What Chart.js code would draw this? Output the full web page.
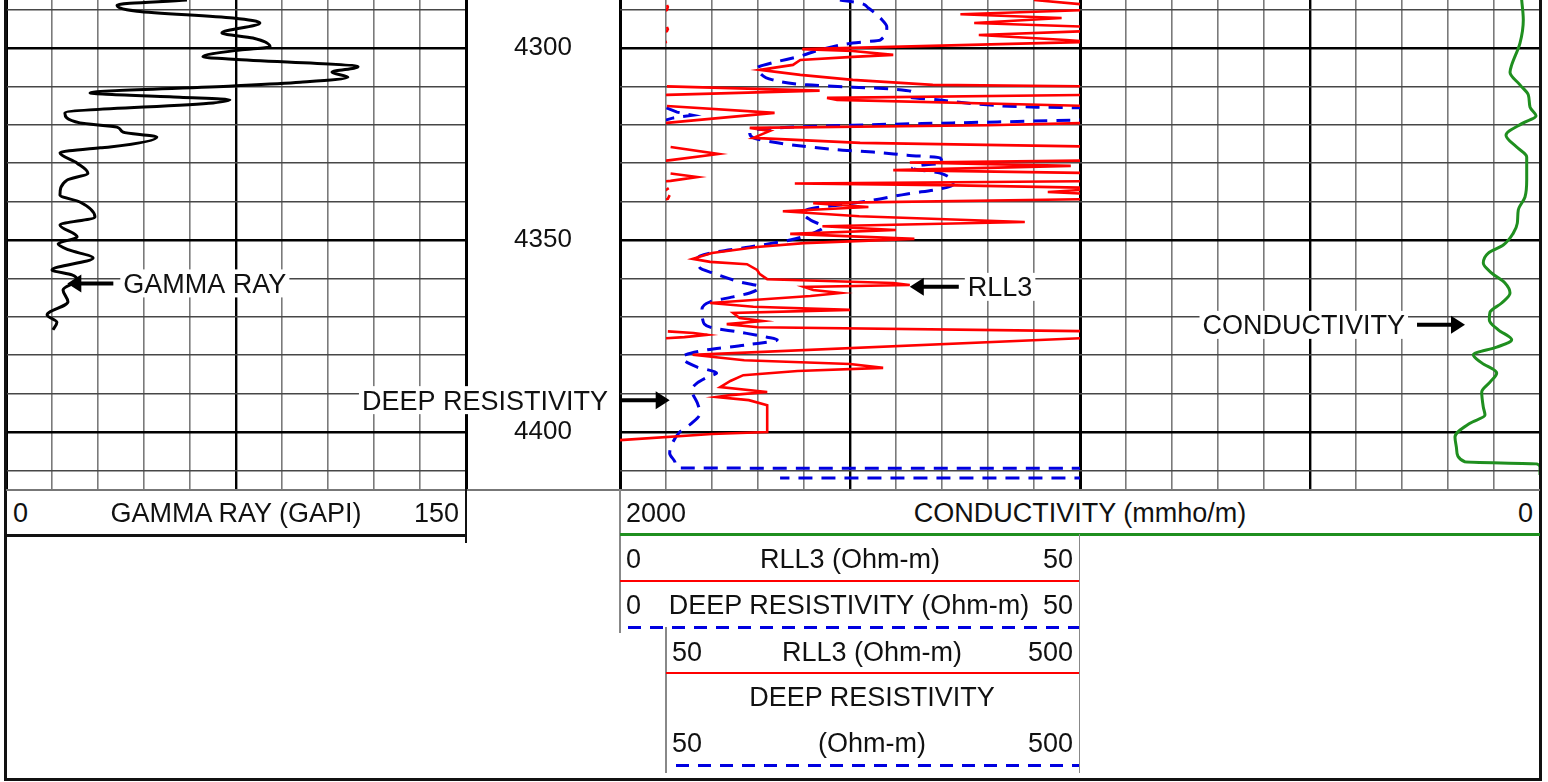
<!DOCTYPE html>
<html>
<head>
<meta charset="utf-8">
<title>Well log</title>
<script src="https://cdn.jsdelivr.net/npm/chart.js"></script>
<style>
  html, body { margin:0; padding:0; background:#fff; }
  body { width:1548px; height:782px; position:relative; overflow:hidden;
         font-family:"Liberation Sans", Arial, Helvetica, sans-serif; }
  canvas { position:absolute; top:0; }
  .t { position:absolute; font-size:27px; line-height:30px; height:30px; white-space:nowrap; color:#111; }
  .ln { position:absolute; }
</style>
</head>
<body>
<canvas id="cA" width="620" height="490" style="left:0"></canvas>
<canvas id="cB" width="938" height="490" style="left:610px"></canvas>
<div id="hdr"></div>
<script>
// ---------------- depth axis ----------------
const depthRange  = [4287.5, 4415.1];
const depthTicks  = [4290, 4300, 4310, 4320, 4330, 4340, 4350, 4360, 4370, 4380, 4390, 4400, 4410];
const depthLabels = [4300, 4350, 4400];

// ---------------- scale ranges / header tick labels ----------------
const gammaScale     = [0, 150];
const gammaGrid      = [0, 15, 30, 45, 60, 75, 90, 105, 120, 135, 150];
const condScale      = [2000, 0];
const condGrid       = [0,100,200,300,400,500,600,700,800,900,1000,1100,1200,1300,1400,1500,1600,1700,1800,1900,2000];
const resScale       = [0, 50];
const resBackupScale = [50, 500];

// ---------------- GAMMA RAY (GAPI) ----------------
const gDepth = [4287.5, 4288.8, 4290.4, 4292.2, 4293.5, 4296.1, 4297.4, 4299.7, 4300.5, 4302.3, 4302.9, 4304.9, 4306.3, 4307.6, 4308.9, 4309.9, 4311.7, 4312.8, 4313.5, 4314.3, 4316.9, 4319.5, 4320.6, 4321.9, 4323.2, 4325.8, 4326.0, 4327.3, 4330.0, 4332.6, 4334.4, 4338.3, 4340.1, 4344.0, 4346.1, 4349.2, 4351.0, 4352.6, 4354.7, 4357.8, 4359.1, 4360.4, 4363.0, 4366.1, 4369.5, 4371.4, 4373.4];
const gVal   = [59.0, 36.2, 42.7, 74.0, 82.8, 70.4, 80.5, 86.1, 76.3, 64.2, 74.0, 114.8, 106.3, 111.5, 95.9, 74.0, 27.4, 56.7, 73.0, 67.5, 19.2, 24.1, 36.2, 38.2, 49.2, 33.9, 30.7, 17.6, 23.2, 26.7, 19.9, 17.6, 24.1, 29.0, 17.6, 23.2, 17.0, 20.5, 28.4, 15.0, 21.5, 23.2, 18.6, 20.2, 13.4, 16.6, 15.3];

// ---------------- RLL3 (Ohm-m) ----------------
const rDepth = [4287.5, 4288.8, 4289.3, 4290.1, 4291.2, 4292.2, 4293.5, 4294.5, 4295.1, 4295.6, 4296.6, 4297.9, 4298.4, 4300.3, 4300.8, 4301.8, 4302.3, 4303.1, 4304.4, 4305.7, 4307.0, 4308.3, 4309.6, 4310.0, 4311.1, 4312.2, 4313.0, 4313.5, 4315.1, 4316.9, 4319.5, 4320.1, 4320.8, 4321.6, 4322.7, 4323.4, 4324.7, 4325.8, 4327.6, 4329.2, 4329.8, 4330.7, 4331.8, 4332.7, 4333.6, 4334.6, 4335.3, 4335.7, 4336.5, 4337.5, 4338.3, 4339.3, 4340.4, 4341.4, 4342.5, 4343.8, 4345.3, 4346.4, 4347.4, 4348.4, 4349.7, 4350.8, 4351.8, 4353.4, 4354.9, 4355.7, 4356.3, 4357.8, 4358.9, 4360.2, 4361.2, 4361.7, 4362.2, 4363.0, 4363.8, 4364.6, 4366.4, 4367.4, 4368.2, 4369.0, 4370.3, 4371.1, 4371.9, 4372.7, 4373.8, 4374.2, 4374.7, 4375.3, 4375.6, 4379.9, 4381.3, 4382.3, 4383.3, 4384.1, 4385.2, 4386.7, 4388.3, 4389.6, 4390.4, 4390.9, 4391.7, 4393.0, 4400.0, 4400.5, 4402.1];
const rVal   = [45, 51, 52, 51, 37, 48, 38.5, 51, 52, 51, 39, 48.5, 51, 19.8, 25.3, 29.7, 25.3, 19.6, 18.8, 15.2, 19.6, 25.3, 34, 51, 217, 51, 22.5, 23.6, 51, 168, 51, 40, 14.1, 16.3, 15.2, 14.5, 26.1, 55, 107, 55, 31.5, 49, 29.7, 55, 84, 55, 19, 35, 53, 46.5, 54, 52, 21, 27, 17.7, 26, 44, 22, 30, 18.5, 32, 20, 14.9, 10, 7.9, 9.8, 13.8, 14.9, 15.2, 16, 29.7, 31.5, 20, 21, 24, 20.7, 9.8, 14.5, 25, 12.3, 13, 15.5, 11.6, 15, 52, 80, 95, 70, 50, 7.9, 13.5, 25, 28.6, 19.3, 13.4, 12, 10.9, 16, 12, 10.5, 14, 16, 16, 10, 0];

// ---------------- DEEP RESISTIVITY (Ohm-m) ----------------
const dDepth = [4287.5, 4288.3, 4289.6, 4292.7, 4294.5, 4297.9, 4298.7, 4300.5, 4302.1, 4303.9, 4305.2, 4306.5, 4308.3, 4309.6, 4310.2, 4310.7, 4311.5, 4312.8, 4313.5, 4314.8, 4315.4, 4315.6, 4316.7, 4317.5, 4318.2, 4318.8, 4319.5, 4320.1, 4320.6, 4321.4, 4322.1, 4323.4, 4324.7, 4325.8, 4326.6, 4327.1, 4327.9, 4328.6, 4330.0, 4330.5, 4331.3, 4332.6, 4335.7, 4336.7, 4338.0, 4339.6, 4340.9, 4341.7, 4343.0, 4344.8, 4346.6, 4348.2, 4350.0, 4351.8, 4353.4, 4354.7, 4357.3, 4358.6, 4360.9, 4362.2, 4363.8, 4364.8, 4366.1, 4368.2, 4370.8, 4372.7, 4374.0, 4375.3, 4376.0, 4377.3, 4378.6, 4379.9, 4380.7, 4383.1, 4384.6, 4385.7, 4387.2, 4389.1, 4392.4, 4395.1, 4397.7, 4400.0, 4402.9, 4405.5, 4408.1, 4409.4, 4409.5, 4411.7, 4412.0];
const dVal   = [23.9, 26.1, 27.0, 28.5, 29.0, 28.3, 25.3, 21.7, 19.6, 16.5, 14.9, 15.2, 16.6, 20.3, 25.3, 29.7, 31.8, 31.5, 34.5, 39.9, 45.3, 50.5, 62, 79, 58, 49.2, 36.2, 25.3, 18.8, 14.5, 14.1, 14.5, 17.1, 20.7, 24.2, 27.5, 31.2, 34.8, 35.0, 32.9, 31.8, 34.8, 36.2, 34.8, 31.2, 27.5, 23.9, 21.0, 19.9, 20.7, 22.1, 21.0, 18.5, 14.1, 9.8, 8.4, 8.7, 10.1, 13.0, 15.2, 14.1, 12.3, 9.8, 8.9, 9.0, 9.8, 13.0, 16.0, 17.1, 13.8, 9.5, 7.1, 6.8, 8.4, 10.5, 9.5, 8.4, 7.8, 8.4, 8.7, 7.8, 6.5, 5.7, 5.4, 6.0, 6.5, 2000, 2000, 174];

// ---------------- CONDUCTIVITY (mmho/m) ----------------
const cDepth = [4287.5, 4292.7, 4298.7, 4304.4, 4306.3, 4309.6, 4312.2, 4315.4, 4317.7, 4319.5, 4322.7, 4325.8, 4328.4, 4334.4, 4338.8, 4342.2, 4345.6, 4348.2, 4351.3, 4353.4, 4356.0, 4358.6, 4361.2, 4363.8, 4366.4, 4368.8, 4370.8, 4373.4, 4376.0, 4377.9, 4379.9, 4382.0, 4384.6, 4387.0, 4389.6, 4393.5, 4395.6, 4397.7, 4401.3, 4404.7, 4407.8, 4408.3, 4409.1, 4411.2];
const cVal   = [39.8, 36.3, 43.5, 61.5, 65.2, 43.5, 25.4, 21.7, 8.7, 36.3, 73.9, 50.7, 28.9, 28.9, 32.6, 47.2, 49.3, 58.0, 79.8, 112.4, 123.3, 105.0, 76.1, 65.2, 83.3, 108.7, 110.2, 90.7, 61.5, 94.1, 145.0, 126.7, 94.1, 108.7, 126.7, 123.3, 119.6, 152.2, 184.8, 181.1, 163.0, 7.2, 0, 0];

// ---------------- annotation anchors (data units) ----------------
const annGamma = { depth: 4361.3, value: 20 };
const annRll3  = { depth: 4362.2, value: 31.5 };
const annDeep  = { depth: 4391.7, value: 5.4 };
const annCond  = { depth: 4372.1, value: 163 };

// ---------------- helpers ----------------
const FAMILY = '"Liberation Sans", Arial, Helvetica, sans-serif';
const FONT = '27px ' + FAMILY;
const RED = '#ff0000', BLUE = '#0000e0', GREEN = '#1f8f1f';
const pts = (dep, val) => dep.map((d, i) => ({ x: val[i], y: d }));
const setTicks = arr => s => { s.ticks = arr.map(v => ({ value: v })); };
// the backup (wrapped) curve only starts where the reading leaves the primary scale
const backupSegment = { borderColor: c => c.p0.parsed.x <= resScale[1] ? 'rgba(0,0,0,0)' : undefined };

function arrow(ctx, tipX, y, dir, len) {
  const head = 14, half = 9;
  ctx.save();
  ctx.fillStyle = '#000'; ctx.strokeStyle = '#000'; ctx.lineWidth = 4;
  ctx.beginPath(); ctx.moveTo(tipX - dir * (head - 1), y); ctx.lineTo(tipX - dir * len, y); ctx.stroke();
  ctx.beginPath(); ctx.moveTo(tipX, y); ctx.lineTo(tipX - dir * head, y - half); ctx.lineTo(tipX - dir * head, y + half); ctx.closePath(); ctx.fill();
  ctx.restore();
}
function label(ctx, text, x, cy, align) {
  ctx.save(); ctx.font = FONT;
  const w = ctx.measureText(text).width;
  const left = align === 'right' ? x - w : x;
  ctx.fillStyle = '#fff'; ctx.fillRect(left - 3, cy - 14, w + 6, 28);
  ctx.fillStyle = '#111'; ctx.textAlign = 'left'; ctx.textBaseline = 'alphabetic';
  ctx.fillText(text, left, cy + 9.6);
  ctx.restore();
}
const hGridColor = c => depthLabels.includes(c.tick.value) ? '#000' : '#474747';
const hGridWidth = c => depthLabels.includes(c.tick.value) ? 2.6 : 1.6;

// ---------------- Chart A: gamma ray track + depth labels ----------------
new Chart(document.getElementById('cA'), {
  type: 'line',
  data: { datasets: [{
    label: 'GAMMA RAY', data: pts(gDepth, gVal), xAxisID: 'x', yAxisID: 'y',
    borderColor: '#000', borderWidth: 3, pointRadius: 0, cubicInterpolationMode: 'monotone', fill: false
  }]},
  options: {
    responsive: false, animation: false, indexAxis: 'y',
    layout: { padding: { left: 6, right: 0, top: 0, bottom: 0 }, autoPadding: false },
    plugins: { legend: { display: false }, tooltip: { enabled: false } },
    scales: {
      x: {
        type: 'linear', position: 'bottom', min: gammaScale[0], max: gammaScale[1],
        afterBuildTicks: setTicks(gammaGrid),
        afterFit: s => { s.height = 0; s.paddingLeft = 0; s.paddingRight = 0; s.paddingTop = 0; s.paddingBottom = 0; },
        ticks: { display: false }, border: { display: false },
        grid: { drawTicks: false,
          color: c => (c.tick.value === 75 || c.tick.value === 0 || c.tick.value === 150) ? '#000' : '#7a7a7a',
          lineWidth: c => (c.tick.value === 0 || c.tick.value === 150) ? 3 : (c.tick.value === 75 ? 2.4 : 1.6) }
      },
      y: {
        type: 'linear', position: 'right', reverse: true, min: depthRange[0], max: depthRange[1],
        afterBuildTicks: setTicks(depthTicks),
        afterFit: s => { s.width = 154; s.paddingTop = 0; s.paddingBottom = 0; s.paddingLeft = 0; s.paddingRight = 0; },
        border: { display: true, color: '#000', width: 3 },
        grid: { drawTicks: false, color: hGridColor, lineWidth: hGridWidth },
        ticks: { autoSkip: false, padding: 48, crossAlign: 'near', color: '#111',
          font: { family: FAMILY, size: 26 },
          callback: v => depthLabels.includes(v) ? String(v) : '' }
      }
    }
  },
  plugins: [{
    id: 'annA',
    afterDatasetsDraw(chart) {
      const { ctx, scales: { x, y } } = chart;
      const tip = x.getPixelForValue(annGamma.value), gy = y.getPixelForValue(annGamma.depth);
      arrow(ctx, tip, gy, -1, 46);
      label(ctx, 'GAMMA RAY', tip + 56, gy, 'left');
      label(ctx, 'DEEP RESISTIVITY', chart.width - 12, y.getPixelForValue(annDeep.depth), 'right');
    }
  }]
});

// ---------------- Chart B: resistivity + conductivity tracks ----------------
const trackClip   = { left: 0,   top: 0, right: -460, bottom: 0 };
const backupClip  = { left: -46, top: 0, right: -460, bottom: 0 };
new Chart(document.getElementById('cB'), {
  type: 'line',
  data: { datasets: [
    { label: 'RLL3', data: pts(rDepth, rVal), xAxisID: 'xr', yAxisID: 'y',
      borderColor: RED, borderWidth: 2.6, pointRadius: 0, tension: 0, clip: trackClip },
    { label: 'RLL3 backup', data: pts(rDepth, rVal), xAxisID: 'xb', yAxisID: 'y',
      borderColor: RED, borderWidth: 2.6, pointRadius: 0, tension: 0, clip: backupClip, segment: backupSegment },
    { label: 'DEEP RESISTIVITY', data: pts(dDepth, dVal), xAxisID: 'xr', yAxisID: 'y',
      borderColor: BLUE, borderWidth: 3, borderDash: [14, 9], pointRadius: 0, cubicInterpolationMode: 'monotone', clip: trackClip },
    { label: 'DEEP RESISTIVITY backup', data: pts(dDepth, dVal), xAxisID: 'xb', yAxisID: 'y',
      borderColor: BLUE, borderWidth: 3, borderDash: [14, 9], pointRadius: 0, tension: 0, clip: backupClip, segment: backupSegment },
    { label: 'CONDUCTIVITY', data: pts(cDepth, cVal), xAxisID: 'xc', yAxisID: 'y',
      borderColor: GREEN, borderWidth: 3, pointRadius: 0, cubicInterpolationMode: 'monotone' }
  ]},
  options: {
    responsive: false, animation: false, indexAxis: 'y',
    layout: { padding: { left: 10, right: 8, top: 0, bottom: 0 }, autoPadding: false },
    plugins: { legend: { display: false }, tooltip: { enabled: false } },
    scales: {
      xc: {
        type: 'linear', position: 'bottom', reverse: true, min: condScale[1], max: condScale[0],
        afterBuildTicks: setTicks(condGrid), afterFit: s => { s.height = 0; },
        ticks: { display: false }, border: { display: false },
        grid: { drawTicks: false,
          color: c => (c.tick.value % 500 === 0) ? '#000' : '#7a7a7a',
          lineWidth: c => (c.tick.value % 1000 === 0) ? 3 : (c.tick.value % 500 === 0 ? 2.4 : 1.6) }
      },
      xr: { type: 'linear', display: false, min: resScale[0], max: resScale[0] + (resScale[1] - resScale[0]) * 2 },
      xb: { type: 'linear', display: false, min: 0, max: resBackupScale[1] * 2 },
      y: {
        type: 'linear', position: 'left', reverse: true, min: depthRange[0], max: depthRange[1],
        afterBuildTicks: setTicks(depthTicks), afterFit: s => { s.width = 0; },
        ticks: { display: false }, border: { display: false },
        grid: { drawTicks: false, color: hGridColor, lineWidth: hGridWidth }
      }
    }
  },
  plugins: [{
    id: 'annB',
    afterDatasetsDraw(chart) {
      const { ctx, chartArea, scales: { xr, xc, y } } = chart;
      const dTip = xr.getPixelForValue(annDeep.value), dy = y.getPixelForValue(annDeep.depth);
      arrow(ctx, dTip, dy, 1, dTip - chartArea.left);
      const rTip = xr.getPixelForValue(annRll3.value), ry = y.getPixelForValue(annRll3.depth);
      arrow(ctx, rTip, ry, -1, 49);
      label(ctx, 'RLL3', rTip + 58, ry, 'left');
      const cTip = xc.getPixelForValue(annCond.value), cy = y.getPixelForValue(annCond.depth);
      arrow(ctx, cTip, cy, 1, 48);
      label(ctx, 'CONDUCTIVITY', cTip - 60, cy, 'right');
    }
  }]
});

// ---------------- track headers ----------------
const hdr = document.getElementById('hdr');
function T(text, x, cy, align) {
  const d = document.createElement('div'); d.className = 't'; d.textContent = String(text);
  d.style.top = (cy - 15) + 'px';
  if (align === 'l') d.style.left = x + 'px';
  else if (align === 'r') d.style.right = (1548 - x) + 'px';
  else { d.style.left = (x - 300) + 'px'; d.style.width = '600px'; d.style.textAlign = 'center'; }
  hdr.appendChild(d);
}
function L(x, y, w, h, bg) {
  const d = document.createElement('div'); d.className = 'ln';
  d.style.left = x + 'px'; d.style.top = y + 'px'; d.style.width = w + 'px'; d.style.height = h + 'px';
  d.style.background = bg; hdr.appendChild(d);
}
const DASH = 'repeating-linear-gradient(to right, ' + BLUE + ' 0 13px, transparent 13px 22px)';

// frame and separators
L(4, 0, 3, 781, '#111');
L(1539, 0, 3, 781, '#111');
L(4, 778, 1538, 3, '#111');
L(6, 489, 1534, 2, '#777');
// gamma header
T(gammaScale[0], 13, 513, 'l'); T('GAMMA RAY (GAPI)', 236, 513, 'c'); T(gammaScale[1], 459, 513, 'r');
L(6, 533.5, 460, 3, '#111');
L(465, 489, 2, 54, '#111');
// conductivity header
T(condScale[0], 626, 513, 'l'); T('CONDUCTIVITY (mmho/m)', 1080, 513, 'c'); T(condScale[1], 1533, 513, 'r');
L(619, 489, 2, 144, '#888');
L(620, 533, 920, 2.5, GREEN);
// RLL3 header
T(resScale[0], 626, 559, 'l'); T('RLL3 (Ohm-m)', 850, 559, 'c'); T(resScale[1], 1073, 559, 'r');
L(620, 579.5, 460, 2.5, RED);
// deep resistivity header
T(resScale[0], 626, 605, 'l'); T('DEEP RESISTIVITY (Ohm-m)', 849, 605, 'c'); T(resScale[1], 1073, 605, 'r');
L(628, 625.5, 451, 3, DASH);
L(1078.5, 534, 1.5, 239, '#888');
L(665, 627, 1.5, 146, '#888');
// backup RLL3 header
T(resBackupScale[0], 672, 651.5, 'l'); T('RLL3 (Ohm-m)', 872, 651.5, 'c'); T(resBackupScale[1], 1073, 651.5, 'r');
L(666, 671.5, 413, 2.5, RED);
// backup deep resistivity header
T('DEEP RESISTIVITY', 872, 697, 'c');
T(resBackupScale[0], 672, 743, 'l'); T('(Ohm-m)', 872, 743, 'c'); T(resBackupScale[1], 1073, 743, 'r');
L(676, 764, 403, 3, DASH);
</script>
</body>
</html>
